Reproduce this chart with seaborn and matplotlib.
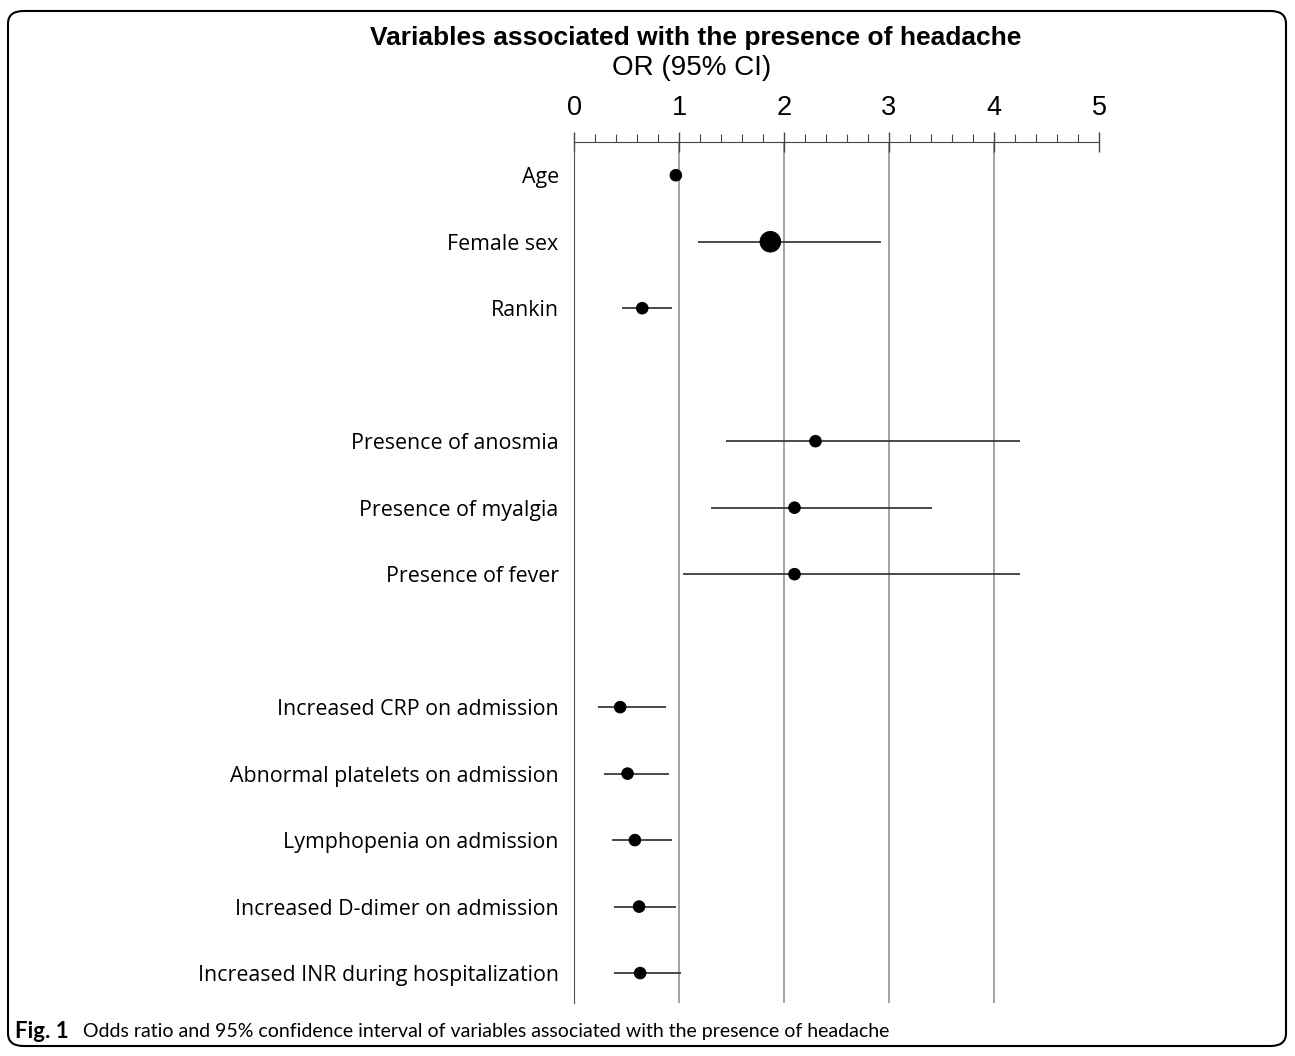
# Forest plot of odds ratios for headache
import pandas as pd
import seaborn as sns
import matplotlib.pyplot as plt
from matplotlib.patches import FancyBboxPatch
from matplotlib.ticker import MultipleLocator

variables = ['Age', 'Female sex', 'Rankin', '',
             'Presence of anosmia', 'Presence of myalgia', 'Presence of fever', '',
             'Increased CRP on admission', 'Abnormal platelets on admission',
             'Lymphopenia on admission', 'Increased D-dimer on admission',
             'Increased INR during hospitalization']
odds_ratio = [0.97, 1.87, 0.65, None, 2.30, 2.10, 2.10, None, 0.44, 0.51, 0.58, 0.62, 0.63]
ci_low = [0.96, 1.18, 0.46, None, 1.45, 1.30, 1.04, None, 0.23, 0.29, 0.36, 0.38, 0.38]
ci_high = [0.98, 2.92, 0.93, None, 4.25, 3.41, 4.25, None, 0.88, 0.90, 0.93, 0.97, 1.02]
weight = [1, 2, 1, None, 1, 1, 1, None, 1, 1, 1, 1, 1]

df = pd.DataFrame({'variable': variables, 'or': odds_ratio, 'lo': ci_low,
                   'hi': ci_high, 'w': weight})
df['pos'] = range(len(df))
pts = df.dropna()

sns.set_style('white')
plt.rcParams['font.family'] = ['Open Sans', 'DejaVu Sans']
plt.rcParams['text.color'] = 'black'
plt.rcParams['xtick.color'] = 'black'
plt.rcParams['ytick.color'] = 'black'

fig = plt.figure(figsize=(12.95, 10.56), dpi=100)
ax = fig.add_axes([574 / 1295, 1 - 1003 / 1056, 525 / 1295, (1003 - 142) / 1056])

# grid lines at each integer OR
for v in [1, 2, 3, 4]:
    ax.axvline(v, color='#8a8a8a', lw=1.1, zorder=0)

ax.hlines(pts['pos'], pts['lo'], pts['hi'], color='#3a3a3a', lw=1.3, zorder=1)
sns.scatterplot(data=pts, x='or', y='pos', size='w', sizes={1: 70, 2: 220},
                color='black', edgecolor='black', legend=False, ax=ax, zorder=2)

ax.set_xlim(0, 5)
ax.set_ylim(12.45, -0.5)
ax.set_yticks(df['pos'])
ax.set_yticklabels(df['variable'], fontsize=15.4, fontweight='medium',
                   family=['Open Sans', 'DejaVu Sans'])
ax.tick_params(axis='y', length=0, pad=11)
ax.xaxis.tick_top()
ax.xaxis.set_major_locator(MultipleLocator(1))
ax.xaxis.set_minor_locator(MultipleLocator(0.2))
ax.tick_params(axis='x', which='major', direction='inout', length=14, width=1,
               labelsize=19.5, pad=8, color='#444444')
ax.tick_params(axis='x', which='minor', direction='out', length=6, width=0.8,
               color='#444444')
for lab in ax.get_xticklabels():
    lab.set_family(['Liberation Sans', 'DejaVu Sans'])
ax.set_xlabel('')
ax.set_ylabel('')
for s in ['right', 'bottom']:
    ax.spines[s].set_visible(False)
ax.spines['top'].set_color('#444444')
ax.spines['left'].set_color('#555555')

fig.text(696 / 1295, 1 - 38 / 1056, 'Variables associated with the presence of headache',
         ha='center', va='center', fontsize=19, fontweight='bold',
         family=['Liberation Sans', 'DejaVu Sans'])
fig.text(692 / 1295, 1 - 68 / 1056, 'OR (95% CI)', ha='center', va='center',
         fontsize=20, family=['Liberation Sans', 'DejaVu Sans'])

# caption and frame
fig.text(15 / 1295, 1 - 1031 / 1056, 'Fig. 1', ha='left', va='center', fontsize=16,
         fontweight='bold', family=['Lato', 'DejaVu Sans'])
fig.text(83 / 1295, 1 - 1031 / 1056,
         'Odds ratio and 95% confidence interval of variables associated with the presence of headache',
         ha='left', va='center', fontsize=14, family=['Lato', 'DejaVu Sans'])
frame = FancyBboxPatch((8 / 1295, 10 / 1056), 1278 / 1295, 1035 / 1056,
                       boxstyle='round,pad=0,rounding_size=0.012',
                       transform=fig.transFigure, fill=False, ec='black', lw=1.5)
fig.patches.append(frame)

fig.savefig('out.png', dpi=100)
